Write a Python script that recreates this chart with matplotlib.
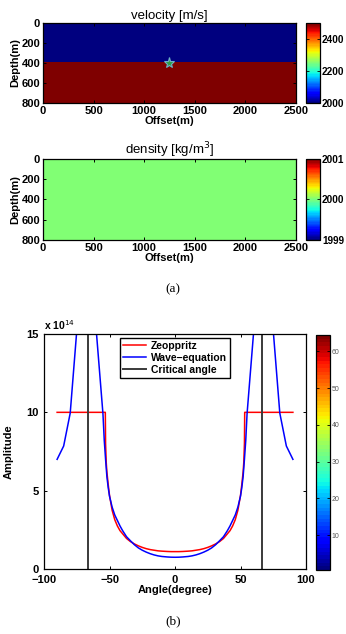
import numpy as np
import matplotlib
matplotlib.use('Agg')
import matplotlib.pyplot as plt
from matplotlib.colors import Normalize
from matplotlib.cm import ScalarMappable

plt.rcParams['font.family'] = ['Liberation Sans', 'DejaVu Sans']

# model: two layers, interface at 400 m, source at (1250, 400)
model_width = 2500
model_depth = 800
interface_depth = 400
vel_top = 2000
vel_bottom = 2500
density = 2000
src_x = 1250
src_z = 400

vel_ticks = [2000, 2200, 2400]
den_ticks = [1999, 2000, 2001]

# amplitude vs angle (units of 1e14)
angle_zp = [-90, -53.2, -53.0, -52.5, -52, -51, -50, -48, -46, -44, -42, -40, -37, -34, -31,
            -28, -25, -22, -19, -16, -13, -10, -6, -3, 0,
            3, 6, 10, 13, 16, 19, 22, 25, 28, 31, 34, 37, 40, 42, 44, 46, 48, 50, 51, 52,
            52.5, 53.0, 53.2, 90]
amp_zp = [10, 10, 8.0, 6.8, 6.2, 5.4, 4.7, 3.75, 3.15, 2.75, 2.45, 2.25, 1.95, 1.75, 1.6,
          1.48, 1.38, 1.3, 1.24, 1.2, 1.16, 1.14, 1.12, 1.11, 1.11,
          1.11, 1.12, 1.14, 1.16, 1.2, 1.24, 1.3, 1.38, 1.48, 1.6, 1.75, 1.95, 2.25, 2.45, 2.75,
          3.15, 3.75, 4.7, 5.4, 6.2, 6.8, 8.0, 10, 10]

angle_we = [-90, -85, -80, -75, -70, -65, -60, -55, -54, -53, -52, -51, -50, -48, -46, -44,
            -42, -40, -37, -34, -31, -28, -25, -22, -19, -16, -13, -10, -6, -3, 0,
            3, 6, 10, 13, 16, 19, 22, 25, 28, 31, 34, 37, 40, 42, 44, 46, 48, 50, 51, 52,
            53, 54, 55, 60, 65, 70, 75, 80, 85, 90]
amp_we = [7.0, 7.85, 9.95, 15.2, 24, 24, 15.1, 9.9, 8.2, 7.0, 5.9, 5.2, 4.65, 3.95, 3.45, 3.1,
          2.75, 2.45, 2.06, 1.8, 1.55, 1.35, 1.2, 1.08, 0.98, 0.9, 0.84, 0.8, 0.77, 0.755, 0.75,
          0.755, 0.77, 0.8, 0.84, 0.9, 0.98, 1.08, 1.2, 1.35, 1.55, 1.8, 2.06, 2.45, 2.75, 3.1,
          3.45, 3.95, 4.65, 5.2, 5.9, 7.0, 8.2, 9.9, 15.1, 24, 24, 15.2, 9.95, 7.85, 7.0]

critical_angle = 66.4

jet64 = plt.get_cmap('jet', 64)
TICK_FS = 8
LABEL_FS = 8


def style_axes(ax):
    ax.tick_params(direction='in', top=True, right=True, length=2.5, width=0.7, pad=2)
    for lab in ax.get_xticklabels() + ax.get_yticklabels():
        lab.set_fontsize(TICK_FS)
        lab.set_fontweight('bold')
    for sp in ax.spines.values():
        sp.set_linewidth(0.9)


def style_cbar(cax, size=7.2, bold=True):
    cax.tick_params(direction='in', length=2, width=0.6, pad=1, right=True, left=True)
    for lab in cax.get_yticklabels():
        lab.set_fontsize(size)
        if bold:
            lab.set_fontweight('bold')
    for sp in cax.spines.values():
        sp.set_linewidth(0.9)


fig = plt.figure(figsize=(3.46, 6.34), dpi=100)

# velocity model
nz, nx = 80, 250
zz = np.linspace(0, model_depth, nz)[:, None] * np.ones((1, nx))
vel = np.where(zz < interface_depth, vel_top, vel_bottom)
ax1 = fig.add_axes([0.1243, 0.8375, 0.731, 0.1262])
im1 = ax1.imshow(vel, cmap=jet64, vmin=2000, vmax=2500, aspect='auto',
                 extent=[0, model_width, model_depth, 0], interpolation='nearest')
ax1.plot([src_x], [src_z], marker='*', markersize=8, markerfacecolor='#2e9e48',
         markeredgecolor='#6fb0c8', markeredgewidth=0.8, linestyle='none')
ax1.set_xticks(range(0, 2501, 500))
ax1.set_yticks(range(0, 801, 200))
ax1.set_title('velocity [m/s]', fontsize=9.5, pad=3)
ax1.set_xlabel('Offset(m)', fontsize=LABEL_FS, fontweight='bold', labelpad=0)
ax1.set_ylabel('Depth(m)', fontsize=LABEL_FS, fontweight='bold', labelpad=1)
style_axes(ax1)
cax1 = fig.add_axes([0.8844, 0.8375, 0.0419, 0.1262])
fig.colorbar(im1, cax=cax1, ticks=vel_ticks)
style_cbar(cax1)

# density model
den = np.full((nz, nx), density)
ax2 = fig.add_axes([0.1243, 0.6215, 0.731, 0.1278])
im2 = ax2.imshow(den, cmap=jet64, vmin=1999, vmax=2001, aspect='auto',
                 extent=[0, model_width, model_depth, 0], interpolation='nearest')
ax2.set_xticks(range(0, 2501, 500))
ax2.set_yticks(range(0, 801, 200))
ax2.set_title('density [kg/m$^3$]', fontsize=9.5, pad=3)
ax2.set_xlabel('Offset(m)', fontsize=LABEL_FS, fontweight='bold', labelpad=0)
ax2.set_ylabel('Depth(m)', fontsize=LABEL_FS, fontweight='bold', labelpad=1)
style_axes(ax2)
cax2 = fig.add_axes([0.8844, 0.6215, 0.0419, 0.1278])
fig.colorbar(im2, cax=cax2, ticks=den_ticks)
style_cbar(cax2)

fig.text(0.5, 1 - 289 / 634, '(a)', ha='center', va='center', fontsize=9.5,
         family='Liberation Serif')

# amplitude vs angle
ax3 = fig.add_axes([0.1272, 0.1025, 0.7572, 0.3707])
ax3.plot(angle_zp, amp_zp, color='red', lw=1.1, label='Zeoppritz')
ax3.plot(angle_we, amp_we, color='blue', lw=1.1, label='Wave\u2212equation')
ax3.axvline(-critical_angle, color='#3a3a3a', lw=1.4, label='Critical angle')
ax3.axvline(critical_angle, color='#3a3a3a', lw=1.4)
ax3.set_xlim(-100, 100)
ax3.set_ylim(0, 15)
ax3.set_xticks([-100, -50, 0, 50, 100])
ax3.set_xticklabels(['\u2212100', '\u221250', '0', '50', '100'])
ax3.set_yticks([0, 5, 10, 15])
ax3.set_xlabel('Angle(degree)', fontsize=LABEL_FS, fontweight='bold', labelpad=0)
ax3.set_ylabel('Amplitude', fontsize=LABEL_FS, fontweight='bold', labelpad=9)
style_axes(ax3)
ax3.tick_params(axis='y', pad=4)
ax3.tick_params(axis='x', pad=4)
ax3.text(0.0, 1.01, 'x 10$^{14}$', transform=ax3.transAxes, fontsize=7.5,
         fontweight='bold', ha='left', va='bottom')
leg = ax3.legend(loc='upper center', bbox_to_anchor=(0.5, 0.985),
                 prop={'weight': 'bold', 'size': 7.5}, fancybox=False, framealpha=1,
                 edgecolor='black', borderpad=0.3, labelspacing=0.2, handlelength=2.2,
                 handletextpad=0.4, borderaxespad=0)
leg.get_frame().set_linewidth(1.0)

cax3 = fig.add_axes([0.9133, 0.101, 0.0405, 0.3707])
sm = ScalarMappable(norm=Normalize(0.5, 64.5), cmap=jet64)
fig.colorbar(sm, cax=cax3, ticks=[10, 20, 30, 40, 50, 60])
style_cbar(cax3, size=5, bold=False)
cax3.tick_params(labelcolor='#555555')

fig.text(0.5, 1 - 621 / 634, '(b)', ha='center', va='center', fontsize=9.5,
         family='Liberation Serif')

fig.savefig('out.png', dpi=100)
